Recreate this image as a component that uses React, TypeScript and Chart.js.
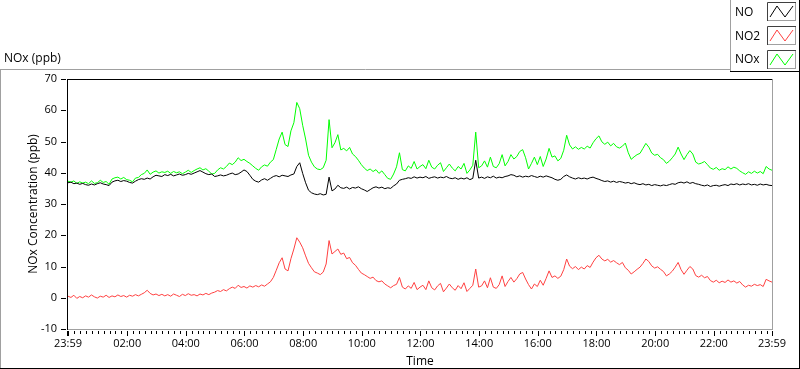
import React, { useEffect, useRef } from "react";
import { Chart, registerables } from "chart.js";

Chart.register(...registerables);

// Sample spacing of the series below, in minutes from the 23:59 start
const SAMPLE_MINUTES = 6;

const NO = [
  36.8, 37.0, 36.5, 36.7, 36.3, 36.6, 36.2, 36.0, 36.4, 36.1,
  36.5, 36.8, 36.4, 36.2, 35.9, 37.0, 37.4, 37.6, 37.2, 37.5,
  37.3, 36.9, 36.7, 37.3, 37.8, 38.1, 37.9, 38.3, 38.0, 38.7,
  39.2, 39.0, 38.8, 39.4, 39.1, 39.5, 39.0, 39.3, 39.6, 39.2,
  39.4, 39.8, 39.5, 39.9, 40.3, 40.7, 40.2, 39.7, 39.4, 39.6,
  38.8, 39.0, 39.3, 39.0, 39.2, 39.6, 39.9, 39.4, 39.6, 40.2,
  40.9, 40.4, 39.2, 37.9, 37.3, 37.0, 37.7, 38.1, 37.6, 38.2,
  38.8, 39.1, 38.7, 39.2, 39.0, 38.8, 39.3, 39.6, 42.0, 43.2,
  39.8, 36.8, 34.4, 33.6, 33.2, 33.0, 33.3, 32.9, 33.1, 38.6,
  34.2, 34.8, 36.0, 35.2, 35.0, 35.4, 34.8, 35.3, 35.1, 35.5,
  34.9, 34.5, 34.0, 34.6, 35.2, 35.5, 35.1, 35.4, 34.9, 35.2,
  35.0, 35.8, 36.4, 37.6, 37.9, 38.1, 38.4, 38.2, 38.7, 38.3,
  38.6, 38.4, 38.8, 38.2, 38.5, 38.7, 38.3, 38.6, 38.4, 38.8,
  38.3, 38.1, 38.4, 37.9, 38.3, 38.0, 38.4, 37.8, 38.2, 44.0,
  38.3, 38.6, 38.2, 38.7, 38.4, 38.9, 38.3, 38.6, 38.4, 38.8,
  39.0, 39.4, 39.2, 38.7, 39.0, 38.6, 38.9, 38.7, 39.1, 38.8,
  38.5, 38.9, 38.6, 39.0, 38.7, 38.4, 37.9, 37.6, 37.9, 38.8,
  39.3, 38.7, 38.3, 38.0, 38.4, 38.1, 38.3, 38.0, 38.4, 38.6,
  38.2, 37.9, 37.5, 37.2, 37.4, 37.0, 37.3, 36.9, 37.2, 37.0,
  36.7, 36.9, 36.5, 36.8, 36.4, 36.2, 36.5, 36.1, 36.3, 35.9,
  36.2, 36.0, 35.8, 36.1, 35.9, 36.2, 36.5, 36.3, 36.8, 37.0,
  36.7, 37.1, 36.6, 36.9, 36.5, 36.3, 36.0, 35.8, 36.1, 35.6,
  35.9, 36.0, 35.7, 36.0, 36.2, 35.9, 36.4, 36.2, 36.5, 36.1,
  36.4, 36.2, 36.5, 36.1, 36.3, 36.0, 36.4, 36.1, 36.3, 36.0,
  35.9,
];

const NO2 = [
  0.5, 0.1, 0.8, -0.2, 0.4, 0.0, 0.6, 0.2, 0.9, 0.3,
  -0.1, 0.5, 0.2, 0.8, 0.1, 0.6, 0.3, 0.9, 0.4, 0.7,
  0.2, 0.8, 0.5, 1.0, 0.6, 1.1, 1.6, 2.4, 1.4, 0.9,
  1.2, 0.7, 1.1, 0.6, 1.0, 0.5, 1.2, 0.8, 0.4, 1.1,
  0.7, 1.3, 0.8, 1.0, 0.6, 1.2, 0.9, 1.4, 1.0, 1.5,
  1.8, 2.3, 2.0, 2.6, 2.2, 2.9, 3.4, 3.0, 4.0, 3.3,
  3.6, 3.1, 3.8, 3.4, 3.9, 3.5, 4.1, 3.7, 4.4, 5.1,
  6.5, 8.8, 11.2, 12.8, 9.2, 8.6, 12.5, 15.6, 19.2, 17.8,
  16.0, 13.4, 11.0, 9.6, 8.3, 7.9, 7.4, 8.2, 10.8, 18.3,
  14.0, 14.8, 15.6, 13.9, 14.3, 12.5, 12.9, 11.2, 10.4, 9.1,
  7.9, 7.4, 6.8, 6.2, 6.6, 5.5, 5.1, 5.4, 4.4, 3.8,
  3.2, 3.9, 4.3, 6.5, 3.4, 2.8, 3.8, 3.0, 4.9, 2.6,
  3.4, 4.0, 2.6, 5.4, 3.2, 2.5, 3.8, 4.6, 1.9, 3.1,
  4.4, 3.2, 2.4, 3.9, 2.9, 4.8, 2.0, 3.0, 4.0, 9.2,
  3.4, 3.8, 5.4, 3.2, 6.4, 3.4, 3.0, 4.2, 7.0, 3.6,
  5.2, 6.5, 5.0, 6.1, 7.6, 8.1, 6.0, 4.2, 2.8, 4.4,
  3.6, 5.6, 4.0, 6.2, 8.6, 6.5, 7.0, 6.2, 6.9, 9.0,
  12.4, 10.1, 9.3, 10.0, 9.0, 9.8, 9.2, 10.3, 9.7, 11.4,
  12.8, 13.6, 12.4, 11.8, 12.3, 11.4, 11.9, 11.2, 10.6, 11.3,
  9.6, 8.8, 7.6, 8.3, 9.1, 9.8, 11.0, 12.4, 11.6, 10.2,
  9.5, 9.9, 9.1, 8.4, 7.0, 7.6, 8.5, 9.8, 11.3, 9.0,
  7.5, 8.8, 10.0, 9.2, 7.1, 6.6, 7.2, 6.4, 6.8, 5.5,
  5.0, 5.6, 4.8, 5.3, 4.9, 5.7, 5.0, 5.4, 4.7, 5.2,
  4.1, 3.4, 4.0, 3.7, 4.3, 3.9, 4.2, 3.6, 5.9, 5.4,
  5.0,
];

const NOX = [
  37.3, 37.0, 37.4, 36.6, 37.1, 36.7, 37.0, 36.5, 37.4, 36.6,
  36.8, 37.6, 36.9, 37.2, 36.3, 38.0, 38.4, 38.6, 38.0, 38.5,
  37.8, 37.6, 37.1, 38.3, 38.5, 39.4, 39.8, 40.9, 39.5, 40.2,
  40.6, 39.9, 40.3, 40.1, 40.5, 39.8, 40.4, 40.0, 40.3, 39.7,
  40.2, 40.8, 40.1, 40.7, 41.2, 41.6, 40.9, 41.3, 40.5, 39.6,
  39.8, 40.9, 41.6, 41.2, 42.0, 43.1, 42.6, 43.4, 44.8, 43.9,
  44.3, 43.6, 43.0, 42.2, 41.4, 40.8, 41.9, 42.5, 42.1, 43.4,
  44.2, 47.5, 50.8, 53.0, 49.0, 48.4, 53.4, 56.0, 62.5, 60.5,
  55.2, 50.8, 45.6, 43.4, 41.9, 41.2, 41.0, 41.6, 44.0, 57.0,
  48.0, 49.6, 52.2, 47.3, 47.8, 47.0, 48.1, 46.0, 45.2, 44.0,
  42.6, 41.5, 40.7, 41.2, 40.4, 41.0, 39.8, 40.6, 39.4, 38.2,
  37.9, 39.6, 41.9, 46.4, 41.0, 40.6, 42.2, 41.4, 43.6, 41.2,
  42.0, 42.6, 41.3, 44.0, 41.8, 41.2, 42.4, 43.2, 40.4, 41.6,
  42.8, 41.5, 40.6, 42.0, 41.2, 43.0, 39.8, 40.9, 42.4, 53.0,
  41.6, 42.2, 43.8, 41.8, 45.0, 42.0, 41.6, 42.9, 45.8, 42.2,
  43.6, 45.8, 44.4, 45.2, 46.8, 47.4, 44.8, 41.2, 43.0, 45.0,
  42.6, 45.2, 42.0, 44.4, 47.8, 45.0, 45.4, 43.8, 44.6, 47.2,
  52.0, 48.9, 47.6, 48.3, 47.5, 48.1, 47.6, 48.5, 47.9, 49.6,
  50.9, 51.8, 49.9, 49.1, 49.8, 48.6, 49.4, 48.3, 47.9, 48.5,
  49.5, 46.4, 44.3, 45.1, 45.8, 46.2, 47.8, 49.4, 48.2, 46.3,
  45.6, 45.9, 44.8, 44.2, 43.0, 43.7, 44.8, 46.0, 48.2, 46.0,
  44.2, 45.8, 47.1, 46.0, 43.4, 42.8, 43.1, 43.6, 42.6, 41.5,
  41.1, 41.7, 40.8, 41.3, 41.0, 41.9, 41.2, 41.8, 41.4, 40.6,
  40.0, 39.5, 40.3, 39.8, 40.5, 39.9, 40.4, 39.7, 42.0, 41.2,
  40.8,
];

const SERIES_NAMES = ["NO", "NO2", "NOx"];
const SERIES_COLORS = ["#000000", "#ff4040", "#00ff00"];

// x axis: minutes after 23:59
const X_MIN = 0;
const X_MAX = 1440;
const TICK_MINUTES = [0, 121, 241, 361, 481, 601, 721, 841, 961, 1081, 1201, 1321, 1440];
const TICK_LABELS = ["23:59", "02:00", "04:00", "06:00", "08:00", "10:00", "12:00", "14:00", "16:00", "18:00", "20:00", "22:00", "23:59"];
const MINOR_TICK_START = 1;
const MINOR_TICK_STEP = 12;

const Y_MIN = -10;
const Y_MAX = 70;
const Y_STEP = 10;

const PLOT_LABEL = "NOx (ppb)";
const X_TITLE = "Time";
const Y_TITLE = "NOx Concentration (ppb)";

const FONT = "'Open Sans', 'Noto Sans', 'DejaVu Sans', sans-serif";

const toPoints = (arr: number[]) => arr.map((y, i) => ({ x: i * SAMPLE_MINUTES, y }));

const framePlugin = {
  id: "labviewFrame",
  afterDraw(chart: any) {
    const { ctx, chartArea: a, scales } = chart;
    const xs = scales.x;
    const ys = scales.y;
    const line = (x1: number, y1: number, x2: number, y2: number, c: string) => {
      ctx.strokeStyle = c;
      ctx.beginPath();
      ctx.moveTo(x1, y1);
      ctx.lineTo(x2, y2);
      ctx.stroke();
    };
    ctx.save();
    ctx.lineWidth = 1;

    // outer frame
    line(0, 69.5, 731, 69.5, "#a0a0a0");
    line(0.5, 69.5, 0.5, 368, "#a0a0a0");
    line(0, 368.5, 800, 368.5, "#000000");
    line(799.5, 71, 799.5, 369, "#000000");

    // legend box
    line(730.5, 0, 730.5, 71.5, "#a0a0a0");
    line(730, 71.5, 800, 71.5, "#000000");
    line(799.5, 0, 799.5, 72, "#000000");

    // plot area border
    const L = Math.round(a.left) - 0.5;
    const T = Math.round(a.top) + 0.5;
    const R = Math.round(a.right) + 0.5;
    const B = Math.round(a.bottom) + 0.5;
    line(L, T, R, T, "#000000");
    line(L, T - 0.5, L, B + 0.5, "#000000");
    line(R, T, R, B, "#a0a0a0");
    line(L + 0.5, B, R + 0.5, B, "#a0a0a0");

    // y tick marks
    for (let v = Y_MIN; v <= Y_MAX; v += Y_STEP) {
      const py = Math.round(ys.getPixelForValue(v)) + 0.5;
      line(61, py, 66, py, "#000000");
    }
    // x minor tick marks
    for (let t = MINOR_TICK_START; t < X_MAX; t += MINOR_TICK_STEP) {
      const px = Math.round(xs.getPixelForValue(t)) + 0.5;
      line(px, B + 1.5, px, B + 4.5, "#000000");
    }
    // x major tick marks
    TICK_MINUTES.forEach((t) => {
      const px = Math.round(xs.getPixelForValue(t)) + 0.5;
      line(px, B + 1.5, px, B + 6.5, "#000000");
    });
    {
      const px = Math.round(xs.getPixelForValue(X_MIN)) - 0.5;
      line(px, B + 1.5, px, B + 6.5, "#000000");
    }

    // plot label
    ctx.fillStyle = "#000000";
    ctx.font = `12px ${FONT}`;
    ctx.textBaseline = "middle";
    ctx.textAlign = "left";
    ctx.fillText(PLOT_LABEL, 4, 58.5);

    // legend
    chart.data.datasets.forEach((ds: any, i: number) => {
      const cy = 13 + i * 23.5;
      ctx.fillStyle = "#000000";
      ctx.font = `12px ${FONT}`;
      ctx.fillText(ds.label, 735, cy);
      const bx = 767;
      const by = 2 + i * 24;
      const bw = 29;
      const bh = 19;
      ctx.fillStyle = "#ffffff";
      ctx.fillRect(bx, by, bw, bh);
      line(bx + 0.5, by + 0.5, bx + bw, by + 0.5, "#404040");
      line(bx + 0.5, by + 0.5, bx + 0.5, by + bh, "#404040");
      line(bx + bw - 0.5, by + 1, bx + bw - 0.5, by + bh, "#a0a0a0");
      line(bx + 1, by + bh - 0.5, bx + bw, by + bh - 0.5, "#a0a0a0");
      ctx.strokeStyle = ds.borderColor;
      ctx.beginPath();
      ctx.moveTo(bx + 3, by + 15);
      ctx.lineTo(bx + 10, by + 4);
      ctx.lineTo(bx + 18, by + 15);
      ctx.lineTo(bx + 26, by + 4);
      ctx.stroke();
    });

    ctx.restore();
  },
};

export default function App() {
  const canvasRef = useRef<HTMLCanvasElement | null>(null);

  useEffect(() => {
    const canvas = canvasRef.current;
    if (!canvas) return;
    const seriesValues = [NO, NO2, NOX];
    const chart = new Chart(canvas, {
      type: "line",
      data: {
        datasets: seriesValues.map((vals, i) => ({
          label: SERIES_NAMES[i],
          data: toPoints(vals),
          borderColor: SERIES_COLORS[i],
          backgroundColor: SERIES_COLORS[i],
          borderWidth: 1,
          pointRadius: 0,
          tension: 0,
          fill: false,
        })),
      },
      options: {
        animation: false,
        responsive: false,
        maintainAspectRatio: false,
        events: [],
        layout: { padding: { top: 79, right: 28, left: 0, bottom: 0 } },
        plugins: {
          legend: { display: false },
          tooltip: { enabled: false },
          title: { display: false },
        },
        scales: {
          x: {
            type: "linear",
            min: X_MIN,
            max: X_MAX,
            grid: { display: false, drawTicks: false },
            border: { display: false },
            afterBuildTicks: (s: any) => {
              s.ticks = TICK_MINUTES.map((v) => ({ value: v }));
            },
            afterFit: (s: any) => {
              s.height = 40;
            },
            ticks: {
              autoSkip: false,
              maxRotation: 0,
              minRotation: 0,
              padding: 8,
              color: "#000000",
              font: { family: FONT, size: 11 },
              callback: (_v: any, index: number) => TICK_LABELS[index] ?? "",
            },
            title: {
              display: true,
              text: X_TITLE,
              color: "#000000",
              font: { family: FONT, size: 12 },
              padding: { top: 0, bottom: 0 },
            },
          },
          y: {
            type: "linear",
            min: Y_MIN,
            max: Y_MAX,
            grid: { display: false, drawTicks: false },
            border: { display: false },
            afterFit: (s: any) => {
              s.width = 68;
            },
            ticks: {
              stepSize: Y_STEP,
              padding: 11,
              color: "#000000",
              font: { family: FONT, size: 11 },
            },
            title: {
              display: true,
              text: Y_TITLE,
              color: "#000000",
              font: { family: FONT, size: 12 },
              padding: { top: 26, bottom: 0 },
            },
          },
        },
      },
      plugins: [framePlugin],
    });
    return () => chart.destroy();
  }, []);

  return (
    <div style={{ width: 800, height: 369, position: "relative", background: "#ffffff" }}>
      <style>{`html,body{margin:0;padding:0;background:#fff;}`}</style>
      <canvas ref={canvasRef} width={800} height={369} style={{ display: "block", width: 800, height: 369 }} />
    </div>
  );
}
